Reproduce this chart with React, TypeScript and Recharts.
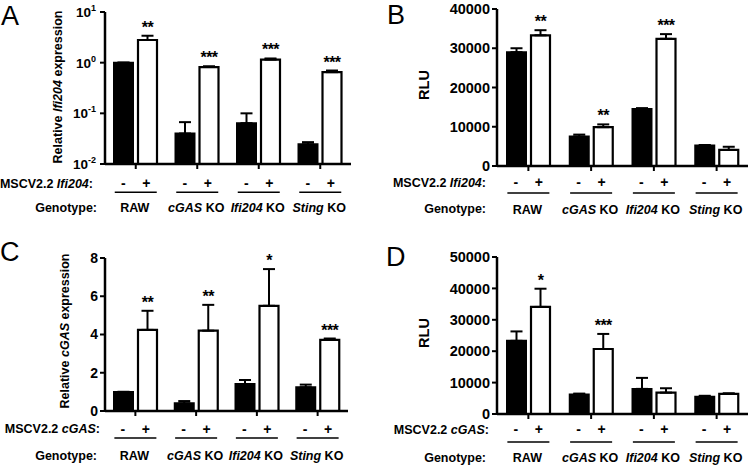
import React from "react";
import { BarChart, Bar, XAxis, YAxis, ErrorBar, LabelList } from "recharts";

const FONT = "'Liberation Sans', Arial, Helvetica, sans-serif";

const genotypes = ["RAW", "cGAS KO", "Ifi204 KO", "Sting KO"];
const signs = ["-", "+"];

// Panel A: Relative Ifi204 expression (log)
const aMinus = [1.0, 0.04, 0.064, 0.0245];
const aMinusErr = [0, 0.027, 0.036, 0.0025];
const aPlus = [2.8, 0.82, 1.15, 0.65];
const aPlusErr = [0.6, 0.03, 0.06, 0.05];
const aStars = ["**", "***", "***", "***"];
const aTicks = [0.01, 0.1, 1, 10];

// Panel B: RLU (MSCV2.2 Ifi204)
const bMinus = [29000, 7500, 14500, 5200];
const bMinusErr = [1000, 500, 250, 150];
const bPlus = [33300, 9900, 32400, 4100];
const bPlusErr = [1300, 700, 1200, 800];
const bStars = ["**", "**", "***", ""];
const bTicks = [0, 10000, 20000, 30000, 40000];

// Panel C: Relative cGAS expression
const cMinus = [1.0, 0.4, 1.41, 1.24];
const cMinusErr = [0, 0.12, 0.21, 0.14];
const cPlus = [4.24, 4.2, 5.5, 3.72];
const cPlusErr = [1.0, 1.35, 1.92, 0.07];
const cStars = ["**", "**", "*", "***"];
const cTicks = [0, 2, 4, 6, 8];

// Panel D: RLU (MSCV2.2 cGAS)
const dMinus = [23300, 6200, 8000, 5500];
const dMinusErr = [3000, 300, 3500, 300];
const dPlus = [34100, 20700, 6800, 6400];
const dPlusErr = [5800, 4800, 1400, 200];
const dStars = ["*", "***", "", ""];
const dTicks = [0, 10000, 20000, 30000, 40000, 50000];

const buildRows = (
  minus: number[],
  minusErr: number[],
  plus: number[],
  plusErr: number[],
  stars: string[]
) =>
  genotypes.map((g, i) => ({
    genotype: g,
    minus: minus[i],
    minusErr: [0, minusErr[i]],
    plus: plus[i],
    plusErr: [0, plusErr[i]],
    stars: stars[i],
  }));

const makeStars =
  (vals: number[], errs: number[], log: boolean, base: number) => (props: any) => {
    const vb = props.viewBox || {};
    const x = vb.x ?? props.x;
    const y = vb.y ?? props.y;
    const w = vb.width ?? props.width;
    const h = vb.height ?? props.height;
    const i = props.index;
    const text = props.value;
    if (!text || i == null) return null;
    const v = vals[i];
    const e = errs[i];
    let lift = 0;
    if (log) {
      const k = h / (Math.log10(v) - Math.log10(base));
      lift = k * (Math.log10(v + e) - Math.log10(v));
    } else {
      lift = (h / v) * e;
    }
    return (
      <text
        x={x + w / 2}
        y={y - lift - 3}
        textAnchor="middle"
        fontSize={16}
        fontWeight="bold"
        fontFamily={FONT}
        fill="#000"
        letterSpacing={-0.5}
      >
        {text}
      </text>
    );
  };

const GroupTick = (props: any) => {
  const { x, y, payload, rows } = props;
  const axisY = y - 5;
  const label: string = String(payload.value);
  const parts = label.endsWith(" KO") ? [label.slice(0, -3), " KO"] : ["", label];
  return (
    <g fontFamily={FONT} fontWeight="bold" fill="#000">
      <text x={x - 12.5} y={axisY + rows[0]} textAnchor="middle" fontSize={14}>
        {signs[0]}
      </text>
      <text x={x + 10.5} y={axisY + rows[0]} textAnchor="middle" fontSize={14}>
        {signs[1]}
      </text>
      <line
        x1={x - 21}
        x2={x + 21}
        y1={axisY + rows[1]}
        y2={axisY + rows[1]}
        stroke="#000"
        strokeWidth={1.4}
      />
      <text x={x - 1} y={axisY + rows[2]} textAnchor="middle" fontSize={12.5}>
        {parts[0] ? <tspan fontStyle="italic">{parts[0]}</tspan> : null}
        <tspan>{parts[1]}</tspan>
      </text>
    </g>
  );
};

const LogTick = (props: any) => {
  const { x, y, payload } = props;
  const exp = Math.round(Math.log10(payload.value));
  return (
    <text
      x={x}
      y={y}
      dy={5}
      textAnchor="end"
      fontFamily={FONT}
      fontWeight="bold"
      fontSize={13.5}
      fill="#000"
    >
      <tspan>10</tspan>
      <tspan dy={-6} fontSize={9}>
        {String(exp)}
      </tspan>
    </text>
  );
};

type PanelProps = {
  left: number;
  top: number;
  margin: { top: number; right: number; left: number; bottom: number };
  yAxisWidth: number;
  xAxisHeight: number;
  data: any[];
  minus: number[];
  minusErr: number[];
  plus: number[];
  plusErr: number[];
  domain: [number, number];
  ticks: number[];
  log?: boolean;
  tickFont: number;
  rows: number[];
};

const Panel = (p: PanelProps) => {
  const base = p.log ? p.domain[0] : 0;
  return (
    <div style={{ position: "absolute", left: p.left, top: p.top }}>
      <BarChart
        width={376}
        height={233}
        data={p.data}
        margin={p.margin}
        barSize={19}
        barGap={5}
        style={{ fontFamily: FONT }}
      >
        <XAxis
          dataKey="genotype"
          type="category"
          height={p.xAxisHeight}
          interval={0}
          tickSize={5}
          tickMargin={0}
          axisLine={{ stroke: "#000", strokeWidth: 2.5 }}
          tickLine={{ stroke: "#000", strokeWidth: 2 }}
          tick={(tp: any) => <GroupTick {...tp} rows={p.rows} />}
        />
        <YAxis
          type="number"
          width={p.yAxisWidth}
          scale={p.log ? "log" : "linear"}
          domain={p.domain}
          allowDataOverflow
          ticks={p.ticks}
          interval={0}
          tickSize={5}
          tickMargin={p.log ? 4 : 2}
          axisLine={{ stroke: "#000", strokeWidth: 2.5 }}
          tickLine={{ stroke: "#000", strokeWidth: 2 }}
          tick={
            p.log
              ? (tp: any) => <LogTick {...tp} />
              : {
                  fontSize: p.tickFont,
                  fontWeight: "bold",
                  fill: "#000",
                  fontFamily: FONT,
                }
          }
        />
        <Bar
          dataKey="minus"
          fill="#000"
          stroke="#000"
          strokeWidth={2}
          isAnimationActive={false}
        >
          <ErrorBar
            dataKey="minusErr"
            direction="y"
            width={6}
            stroke="#000"
            strokeWidth={2}
            isAnimationActive={false}
          />
        </Bar>
        <Bar
          dataKey="plus"
          fill="#fff"
          stroke="#000"
          strokeWidth={2.2}
          isAnimationActive={false}
        >
          <ErrorBar
            dataKey="plusErr"
            direction="y"
            width={6}
            stroke="#000"
            strokeWidth={2}
            isAnimationActive={false}
          />
          <LabelList
            dataKey="stars"
            content={makeStars(p.plus, p.plusErr, !!p.log, base)}
          />
        </Bar>
      </BarChart>
    </div>
  );
};

const Overlay = () => {
  const bold = { fontFamily: FONT, fontWeight: "bold" as const, fill: "#000" };
  return (
    <svg
      width={752}
      height={466}
      style={{ position: "absolute", left: 0, top: 0, pointerEvents: "none" }}
    >
      <g fontFamily={FONT} fontSize={27} fill="#000">
        <text x={1} y={25}>A</text>
        <text x={387} y={23.5}>B</text>
        <text x={0} y={261}>C</text>
        <text x={386} y={266}>D</text>
      </g>
      {/* Axis titles */}
      <text
        {...bold}
        fontSize={12.5}
        textAnchor="middle"
        dominantBaseline="central"
        transform="translate(58,87) rotate(-90)"
      >
        <tspan>Relative </tspan>
        <tspan fontStyle="italic">Ifi204</tspan>
        <tspan> expression</tspan>
      </text>
      <text
        {...bold}
        fontSize={14.5}
        textAnchor="middle"
        dominantBaseline="central"
        transform="translate(424,85) rotate(-90)"
      >
        RLU
      </text>
      <text
        {...bold}
        fontSize={12.5}
        textAnchor="middle"
        dominantBaseline="central"
        transform="translate(65,331) rotate(-90)"
      >
        <tspan>Relative </tspan>
        <tspan fontStyle="italic">cGAS</tspan>
        <tspan> expression</tspan>
      </text>
      <text
        {...bold}
        fontSize={14.5}
        textAnchor="middle"
        dominantBaseline="central"
        transform="translate(424,333) rotate(-90)"
      >
        RLU
      </text>
      {/* Row labels */}
      <g {...bold} fontSize={12.5} textAnchor="end">
        <text x={93} y={187.5}>
          <tspan>MSCV2.2 </tspan>
          <tspan fontStyle="italic">Ifi204</tspan>
          <tspan>:</tspan>
        </text>
        <text x={97} y={211.5}>Genotype:</text>
        <text x={486} y={186.7}>
          <tspan>MSCV2.2 </tspan>
          <tspan fontStyle="italic">Ifi204</tspan>
          <tspan>:</tspan>
        </text>
        <text x={486} y={213.3}>Genotype:</text>
        <text x={100} y={433}>
          <tspan>MSCV2.2 </tspan>
          <tspan fontStyle="italic">cGAS</tspan>
          <tspan>:</tspan>
        </text>
        <text x={97} y={459.7}>Genotype:</text>
        <text x={489} y={433.5}>
          <tspan>MSCV2.2 </tspan>
          <tspan fontStyle="italic">cGAS</tspan>
          <tspan>:</tspan>
        </text>
        <text x={486} y={462}>Genotype:</text>
      </g>
    </svg>
  );
};

export default function App() {
  const dataA = buildRows(aMinus, aMinusErr, aPlus, aPlusErr, aStars);
  const dataB = buildRows(bMinus, bMinusErr, bPlus, bPlusErr, bStars);
  const dataC = buildRows(cMinus, cMinusErr, cPlus, cPlusErr, cStars);
  const dataD = buildRows(dMinus, dMinusErr, dPlus, dPlusErr, dStars);
  return (
    <div
      style={{
        position: "absolute",
        left: 0,
        top: 0,
        width: 752,
        height: 466,
        background: "#fff",
        overflow: "hidden",
      }}
    >
      <Panel
        left={0}
        top={0}
        margin={{ top: 12, right: 25, left: 0, bottom: 0 }}
        yAxisWidth={105}
        xAxisHeight={69}
        data={dataA}
        minus={aMinus}
        minusErr={aMinusErr}
        plus={aPlus}
        plusErr={aPlusErr}
        domain={[0.01, 10]}
        ticks={aTicks}
        log
        tickFont={13.5}
        rows={[23.5, 28.3, 47.7]}
      />
      <Panel
        left={376}
        top={0}
        margin={{ top: 9, right: 4, left: 0, bottom: 0 }}
        yAxisWidth={121}
        xAxisHeight={67}
        data={dataB}
        minus={bMinus}
        minusErr={bMinusErr}
        plus={bPlus}
        plusErr={bPlusErr}
        domain={[0, 40000]}
        ticks={bTicks}
        tickFont={14.5}
        rows={[21, 27, 47.6]}
      />
      <Panel
        left={0}
        top={233}
        margin={{ top: 25, right: 28, left: 0, bottom: 0 }}
        yAxisWidth={105}
        xAxisHeight={55}
        data={dataC}
        minus={cMinus}
        minusErr={cMinusErr}
        plus={cPlus}
        plusErr={cPlusErr}
        domain={[0, 8]}
        ticks={cTicks}
        tickFont={14}
        rows={[22.5, 27, 48.7]}
      />
      <Panel
        left={376}
        top={233}
        margin={{ top: 24, right: 4, left: 0, bottom: 0 }}
        yAxisWidth={121}
        xAxisHeight={52}
        data={dataD}
        minus={dMinus}
        minusErr={dMinusErr}
        plus={dPlus}
        plusErr={dPlusErr}
        domain={[0, 50000]}
        ticks={dTicks}
        tickFont={14.5}
        rows={[19.5, 28, 48]}
      />
      <Overlay />
    </div>
  );
}
